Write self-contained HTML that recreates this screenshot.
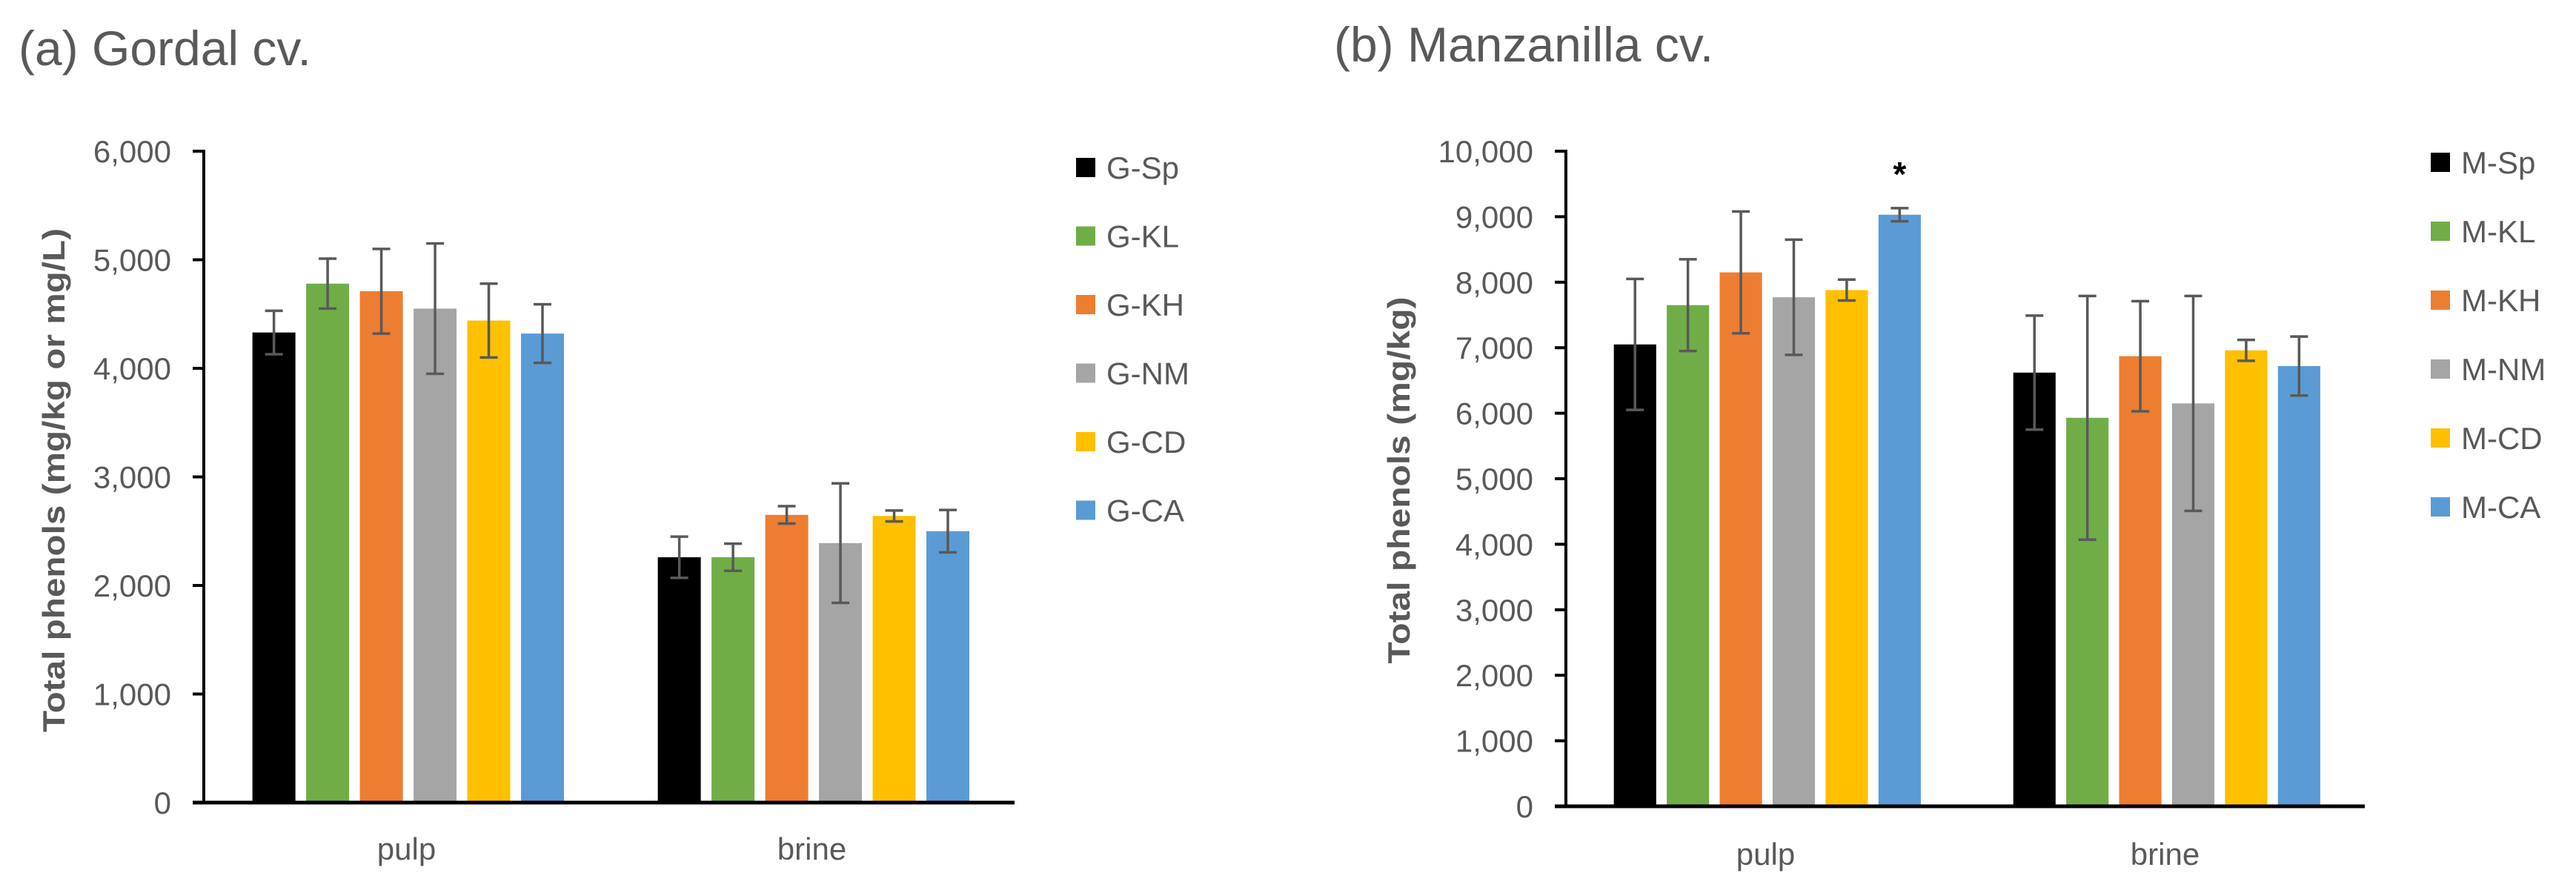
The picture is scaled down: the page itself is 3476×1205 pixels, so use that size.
<!DOCTYPE html>
<html><head><meta charset="utf-8"><style>
html,body{margin:0;padding:0;background:#fff;}
svg{display:block;font-family:"Liberation Sans",sans-serif;}
</style></head><body>
<svg id="c" width="3476" height="1205" viewBox="0 0 3476 1205">
<text x="25" y="88" font-size="66" fill="#595959">(a) Gordal cv.</text>
<text x="1800" y="83" font-size="66" fill="#595959">(b) Manzanilla cv.</text>
</svg>
<script>
const categories = ["pulp","brine"];
const colors = ["#000000","#70AD47","#ED7D31","#A5A5A5","#FFC000","#5B9BD5"];
const gSeries = ["G-Sp","G-KL","G-KH","G-NM","G-CD","G-CA"];
const gPulp = [4330,4780,4710,4550,4440,4320];
const gPulpErr = [200,230,390,600,340,270];
const gBrine = [2260,2260,2650,2390,2640,2500];
const gBrineErr = [190,125,80,550,50,195];
const gTicks = [0,1000,2000,3000,4000,5000,6000];
const gTickLabels = ["0","1,000","2,000","3,000","4,000","5,000","6,000"];
const mSeries = ["M-Sp","M-KL","M-KH","M-NM","M-CD","M-CA"];
const mPulp = [7050,7650,8150,7770,7880,9030];
const mPulpErr = [1000,700,930,880,160,100];
const mBrine = [6620,5930,6870,6150,6960,6720];
const mBrineErr = [870,1860,840,1640,160,450];
const mTicks = [0,1000,2000,3000,4000,5000,6000,7000,8000,9000,10000];
const mTickLabels = ["0","1,000","2,000","3,000","4,000","5,000","6,000","7,000","8,000","9,000","10,000"];

const svg = document.getElementById('c');
const NS = 'http://www.w3.org/2000/svg';
function mk(tag, attrs, parent){
  const e = document.createElementNS(NS, tag);
  for (const k in attrs) e.setAttribute(k, attrs[k]);
  (parent||svg).appendChild(e);
  return e;
}
function chart(cfg){
  const g = mk('g', {});
  
  
  const y = v => cfg.y0 - (v - 0) / cfg.max * (cfg.y0 - cfg.yTop);
  const catW = (cfg.x1 - cfg.x0) / categories.length;
  const vals = [cfg.pulp, cfg.brine], errs = [cfg.pulpErr, cfg.brineErr];
  cfg.ticks.forEach((t,i)=>{
    const tl = mk('line',{x1:cfg.x0-15,x2:cfg.x0,y1:y(t),y2:y(t),stroke:'#000','stroke-width':4},g);
    
    
    const tx = mk('text',{x:cfg.x0-44,y:y(t)+15,'font-size':42,fill:'#595959','text-anchor':'end'},g);
    tx.textContent = cfg.tickLabels[i];
    
    
  });
  categories.forEach((c,ci)=>{
    const cx0 = cfg.x0 + ci*catW;
    vals[ci].forEach((v,si)=>{
      const bx = cx0 + catW*0.12 + si*catW*0.1325;
      const bw = catW*0.106;
      const r = mk('rect',{x:bx,y:y(v),width:bw,height:y(0)-y(v),fill:colors[si]},g);
      
      
      const mx = bx + bw/2, e = errs[ci][si];
      const eg = mk('g',{stroke:'#595959','stroke-width':3.5},g);
      
      
      mk('line',{x1:mx,x2:mx,y1:y(v-e),y2:y(v+e)},eg);
      mk('line',{x1:mx-12,x2:mx+12,y1:y(v+e),y2:y(v+e)},eg);
      mk('line',{x1:mx-12,x2:mx+12,y1:y(v-e),y2:y(v-e)},eg);
      if (cfg.star && ci===cfg.star[0] && si===cfg.star[1]){
        const st = mk('text',{x:mx,y:y(v+e)-30,'font-size':46,'font-weight':'bold',fill:'#000','text-anchor':'middle'},g);
        st.textContent='*';
        
        
      }
    });
    const cl = mk('text',{x:cx0+catW/2,y:cfg.catY,'font-size':42,fill:'#595959','text-anchor':'middle'},g);
    cl.textContent = c;
    
    
  });
  const ya = mk('line',{x1:cfg.x0,x2:cfg.x0,y1:y(cfg.max)-2,y2:y(0)+2,stroke:'#000','stroke-width':4},g);
  
  
  const xa = mk('line',{x1:cfg.x0-15,x2:cfg.x1,y1:y(0),y2:y(0),stroke:'#000','stroke-width':5},g);
  
  
  const yt = mk('text',{x:0,y:0,'font-size':42,'font-weight':'bold',fill:'#595959','text-anchor':'middle',
    textLength:cfg.ytLen,lengthAdjust:'spacingAndGlyphs',
    transform:'translate('+(cfg.ytX+15)+','+cfg.ytY+') rotate(-90)'},g);
  yt.textContent = cfg.ytitle;
  
  
  cfg.series.forEach((s,i)=>{
    const ly = cfg.legY0 + i*cfg.legStep;
    const lg = mk('g',{},g);
    
    
    mk('rect',{x:cfg.legX,y:ly-13,width:26,height:26,fill:colors[i]},lg);
    const lt = mk('text',{x:cfg.legX+41,y:ly+15,'font-size':42,fill:'#595959'},lg);
    lt.textContent = s;
  });
}
chart({name:'gordal-chart',x0:275,x1:1369,y0:1083,yTop:204,max:6000,
  pulp:gPulp,brine:gBrine,pulpErr:gPulpErr,brineErr:gBrineErr,series:gSeries,
  ticks:gTicks,tickLabels:gTickLabels,catY:1160,
  ytitle:'Total phenols (mg/kg or mg/L)',ytX:72,ytY:648,ytLen:680,
  legX:1452,legY0:226,legStep:92.5});
chart({name:'manzanilla-chart',x0:2113,x1:3191,y0:1088,yTop:204,max:10000,
  pulp:mPulp,brine:mBrine,pulpErr:mPulpErr,brineErr:mBrineErr,series:mSeries,
  ticks:mTicks,tickLabels:mTickLabels,catY:1167,star:[0,5],
  ytitle:'Total phenols (mg/kg)',ytX:1887,ytY:648,ytLen:495,
  legX:3280,legY0:219,legStep:93});
</script>
</body></html>
